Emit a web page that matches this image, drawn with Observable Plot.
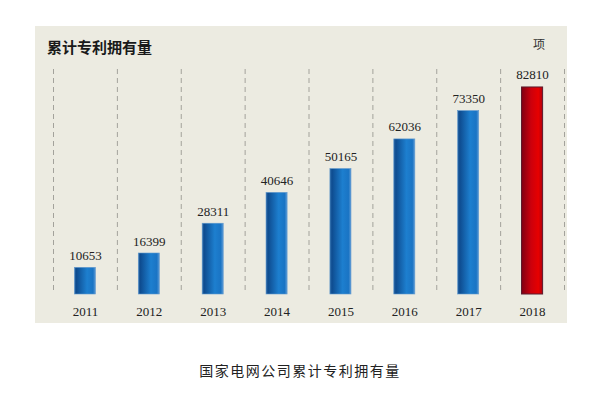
<!DOCTYPE html>
<html>
<head>
<meta charset="utf-8">
<script src="https://cdn.jsdelivr.net/npm/d3@7"></script>
<script src="https://cdn.jsdelivr.net/npm/@observablehq/plot@0.6"></script>
<style>
  html, body { margin: 0; padding: 0; background: #ffffff; }
  #page { position: relative; width: 600px; height: 397px; overflow: hidden; }
  #panel { position: absolute; left: 35px; top: 26px; width: 532px; height: 297px; background: #ecebe1; }
  #title { position: absolute; left: 12px; top: 11px; font-family: "Noto Sans CJK SC", sans-serif; font-weight: 700; font-size: 15px; color: #1a1a1a; line-height: 20px; }
  #unit { position: absolute; left: 498px; top: 9px; font-family: "Noto Sans CJK SC", sans-serif; font-size: 12px; color: #333; line-height: 18px; }
  #chart { position: absolute; left: 0; top: 0; }
  #caption { position: absolute; left: 0; width: 600px; top: 360px; text-align: center; font-family: "Noto Sans CJK SC", sans-serif; font-size: 14px; letter-spacing: 1.5px; color: #222; line-height: 20px; }
</style>
</head>
<body>
<div id="page">
  <div id="panel">
    <div id="chart"></div>
    <div id="title"></div>
    <div id="unit"></div>
  </div>
  <div id="caption"></div>
</div>
<script>
const years = [2011, 2012, 2013, 2014, 2015, 2016, 2017, 2018];
const patents = [10653, 16399, 28311, 40646, 50165, 62036, 73350, 82810];
const highlightYear = 2018;
const titleText = "累计专利拥有量";
const unitText = "项";
const captionText = "国家电网公司累计专利拥有量";

document.getElementById("title").textContent = titleText;
document.getElementById("unit").textContent = unitText;
document.getElementById("caption").textContent = captionText;

const data = years.map((year, i) => ({year, value: patents[i]}));
const boundaries = years.map(y => y - 0.5).concat([years[years.length - 1] + 0.5]);
const half = 0.165;

const plot = Plot.plot({
  width: 532,
  height: 297,
  marginLeft: 18,
  marginRight: 3,
  marginTop: 43,
  marginBottom: 29,
  style: {background: "transparent", fontFamily: "'Liberation Serif', serif", fontSize: "13px", color: "#222"},
  x: {domain: [years[0] - 0.5, years[years.length - 1] + 0.5], ticks: years, tickFormat: d3.format("d"), tickSize: 0, tickPadding: 12, label: null},
  y: {domain: [0, 90000], axis: null},
  marks: [
    Plot.ruleX(boundaries, {stroke: "#a3a29b", strokeWidth: 1, strokeDasharray: "5,4"}),
    Plot.rectY(data, {filter: d => d.year !== highlightYear, x1: d => d.year - half, x2: d => d.year + half, y: "value", fill: "url(#blueGrad)", stroke: "#5f97cc", strokeWidth: 0.6}),
    Plot.rectY(data, {filter: d => d.year === highlightYear, x1: d => d.year - half, x2: d => d.year + half, y: "value", fill: "url(#redGrad)", stroke: "#5a1a2c", strokeWidth: 1}),
    Plot.text(data, {x: "year", y: "value", text: d => String(d.value), lineAnchor: "bottom", dy: -8, fill: "#222", fontSize: 13})
  ]
});

const svg = d3.select(plot);
const defs = svg.insert("defs", ":first-child");
const blue = defs.append("linearGradient").attr("id", "blueGrad").attr("x1", 0).attr("x2", 1).attr("y1", 0).attr("y2", 0);
[[0, "#2a68a8"], [0.1, "#0e4c90"], [0.6, "#1d7fcf"], [0.88, "#1a74c4"], [1, "#5a9ad6"]].forEach(([o, c]) => blue.append("stop").attr("offset", o).attr("stop-color", c));
const red = defs.append("linearGradient").attr("id", "redGrad").attr("x1", 0).attr("x2", 1).attr("y1", 0).attr("y2", 0);
[[0, "#7e0014"], [0.45, "#cc000c"], [0.8, "#e60000"], [1, "#b0000e"]].forEach(([o, c]) => red.append("stop").attr("offset", o).attr("stop-color", c));

document.getElementById("chart").appendChild(plot);
</script>
</body>
</html>
